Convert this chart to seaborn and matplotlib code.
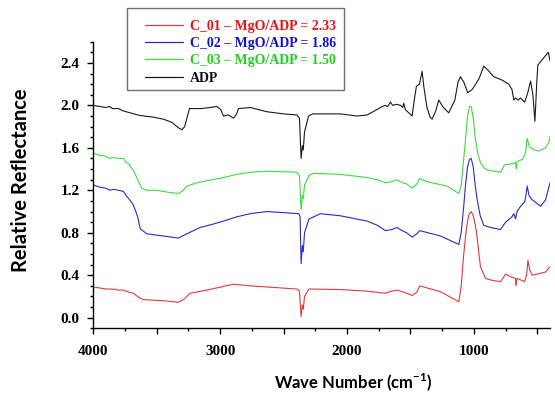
import numpy as np
import pandas as pd
import matplotlib
matplotlib.use("Agg")
import matplotlib.pyplot as plt
from matplotlib.patches import Rectangle
from matplotlib.ticker import MultipleLocator, FixedLocator, FuncFormatter
import seaborn as sns

# ---------------- data ----------------
series_names = ["C_01 \u2013 MgO/ADP = 2.33", "C_02 \u2013 MgO/ADP = 1.86",
                "C_03 \u2013 MgO/ADP = 1.50", "ADP"]

# (wavenumber, relative reflectance) pairs per spectrum
adp_points = [
    (4000, 2.00), (3950, 1.99), (3900, 1.98), (3870, 1.99), (3850, 1.97), (3800, 1.97),
    (3770, 1.95), (3740, 1.94), (3710, 1.93), (3680, 1.92), (3650, 1.91), (3600, 1.90),
    (3530, 1.89), (3447, 1.87), (3380, 1.84), (3330, 1.79), (3302, 1.77), (3280, 1.80),
    (3262, 1.88), (3242, 1.97), (3150, 1.97), (3080, 1.98), (3026, 1.99), (2995, 1.96),
    (2974, 1.90), (2935, 1.91), (2895, 1.88), (2870, 1.92), (2856, 1.97), (2763, 1.98),
    (2631, 1.94), (2500, 1.92), (2395, 1.91), (2375, 1.88), (2362, 1.50), (2352, 1.62),
    (2345, 1.58), (2335, 1.75), (2303, 1.90), (2270, 1.92), (2053, 1.92), (1921, 1.90),
    (1842, 1.91), (1780, 1.95), (1737, 1.98), (1700, 2.00), (1680, 1.99), (1658, 2.03),
    (1640, 2.00), (1610, 2.01), (1579, 2.00), (1560, 1.98), (1553, 2.02), (1540, 1.96),
    (1487, 1.90), (1470, 2.05), (1453, 2.18), (1430, 2.20), (1408, 2.32), (1395, 2.18),
    (1370, 1.98), (1345, 1.89), (1329, 1.87), (1300, 1.95), (1277, 2.05), (1240, 1.98),
    (1198, 1.93), (1150, 2.05), (1125, 2.22), (1106, 2.27), (1080, 2.22), (1048, 2.12),
    (1013, 2.15), (960, 2.25), (922, 2.37), (880, 2.32), (843, 2.27), (780, 2.24),
    (725, 2.20), (700, 2.15), (685, 2.05), (672, 2.07), (650, 2.05), (633, 2.07),
    (600, 2.03), (575, 2.12), (553, 2.23), (535, 2.10), (519, 1.85), (505, 2.20),
    (496, 2.38), (448, 2.45), (413, 2.50), (400, 2.42)]

c03_points = [
    (4000, 1.55), (3950, 1.53), (3900, 1.52), (3870, 1.50), (3840, 1.51), (3800, 1.50),
    (3763, 1.50), (3740, 1.46), (3720, 1.45), (3700, 1.41), (3684, 1.39), (3665, 1.34),
    (3650, 1.30), (3618, 1.22), (3580, 1.20), (3500, 1.20), (3400, 1.18), (3329, 1.17),
    (3290, 1.20), (3263, 1.24), (3184, 1.27), (3060, 1.30), (2974, 1.32), (2870, 1.35),
    (2763, 1.37), (2631, 1.38), (2395, 1.37), (2375, 1.34), (2362, 1.02), (2352, 1.15),
    (2345, 1.12), (2335, 1.25), (2300, 1.34), (2263, 1.36), (2053, 1.35), (1842, 1.32),
    (1760, 1.30), (1698, 1.27), (1650, 1.28), (1605, 1.30), (1580, 1.28), (1530, 1.26),
    (1487, 1.22), (1450, 1.26), (1427, 1.31), (1367, 1.28), (1211, 1.24), (1119, 1.17),
    (1100, 1.25), (1080, 1.50), (1066, 1.68), (1050, 1.90), (1035, 1.99), (1022, 1.99),
    (1005, 1.88), (990, 1.70), (970, 1.55), (948, 1.46), (920, 1.41), (895, 1.39),
    (840, 1.38), (790, 1.37), (758, 1.44), (700, 1.45), (672, 1.46), (665, 1.40),
    (660, 1.47), (620, 1.49), (600, 1.53), (590, 1.58), (580, 1.69), (565, 1.62),
    (553, 1.60), (520, 1.58), (488, 1.57), (435, 1.60), (410, 1.65), (400, 1.71)]

c02_points = [
    (4000, 1.25), (3950, 1.23), (3900, 1.22), (3870, 1.20), (3840, 1.21), (3800, 1.20),
    (3763, 1.19), (3740, 1.15), (3720, 1.12), (3700, 1.09), (3684, 1.06), (3665, 1.00),
    (3650, 0.95), (3631, 0.84), (3579, 0.79), (3450, 0.77), (3329, 0.75), (3263, 0.79),
    (3158, 0.85), (3060, 0.88), (2974, 0.91), (2870, 0.95), (2763, 0.98), (2631, 1.00),
    (2380, 0.98), (2370, 0.95), (2362, 0.51), (2352, 0.68), (2345, 0.62), (2335, 0.80),
    (2300, 0.93), (2263, 0.95), (2210, 0.98), (2053, 0.96), (1842, 0.91), (1760, 0.87),
    (1698, 0.82), (1650, 0.83), (1605, 0.85), (1580, 0.83), (1530, 0.80), (1487, 0.76),
    (1450, 0.79), (1427, 0.82), (1264, 0.77), (1119, 0.69), (1100, 0.80), (1080, 1.05),
    (1066, 1.25), (1050, 1.42), (1035, 1.49), (1021, 1.50), (1005, 1.42), (990, 1.25),
    (974, 1.11), (950, 0.96), (922, 0.87), (869, 0.85), (790, 0.83), (750, 0.90),
    (700, 0.95), (685, 0.98), (672, 0.93), (660, 1.00), (632, 1.05), (600, 1.09),
    (590, 1.15), (580, 1.24), (565, 1.15), (540, 1.11), (474, 1.05), (435, 1.11),
    (400, 1.27)]

c01_points = [
    (4000, 0.29), (3950, 0.28), (3900, 0.27), (3850, 0.27), (3800, 0.26), (3763, 0.26),
    (3720, 0.24), (3684, 0.23), (3640, 0.19), (3605, 0.17), (3450, 0.16), (3329, 0.145),
    (3280, 0.18), (3237, 0.23), (3105, 0.26), (2895, 0.315), (2763, 0.30), (2395, 0.27),
    (2375, 0.25), (2362, 0.01), (2352, 0.12), (2345, 0.08), (2335, 0.20), (2300, 0.27),
    (2053, 0.265), (1842, 0.25), (1698, 0.23), (1650, 0.25), (1605, 0.26), (1580, 0.25),
    (1530, 0.23), (1487, 0.21), (1450, 0.24), (1427, 0.30), (1264, 0.245), (1119, 0.15),
    (1100, 0.30), (1080, 0.60), (1058, 0.85), (1040, 0.97), (1021, 1.00), (1005, 0.96),
    (990, 0.88), (979, 0.80), (960, 0.60), (948, 0.48), (908, 0.37), (850, 0.35),
    (790, 0.34), (750, 0.41), (700, 0.38), (672, 0.37), (668, 0.30), (660, 0.37),
    (600, 0.34), (585, 0.40), (574, 0.54), (560, 0.45), (540, 0.40), (435, 0.43),
    (400, 0.48)]

x_tick_labels = ["4000", "3000", "2000", "1000"]
y_tick_labels = ["0.0", "0.4", "0.8", "1.2", "1.6", "2.0", "2.4"]

# ---------------- build table ----------------
frames = []
for name, pts in zip(series_names, [c01_points, c02_points, c03_points, adp_points]):
    xs, ys = zip(*pts)
    frames.append(pd.DataFrame({"wn": xs, "R": ys, "series": name}))
df = pd.concat(frames, ignore_index=True)

line_colors = {series_names[0]: "#e03a3a", series_names[1]: "#2b2bc0",
               series_names[2]: "#3ddc3d", series_names[3]: "#1a1a1a"}
text_colors = ["#ee1111", "#1515c8", "#22d022", "#111111"]

# ---------------- figure ----------------
sns.set_theme(style="ticks")
plt.rcParams["font.family"] = ["Liberation Serif", "DejaVu Serif"]
plt.rcParams["mathtext.fontset"] = "custom"
plt.rcParams["mathtext.bf"] = "Lato:bold"
plt.rcParams["mathtext.rm"] = "Lato:bold"

fig = plt.figure(figsize=(5.55, 3.96), dpi=100)
ax = fig.add_axes([93.3 / 555, 1 - 328.3 / 396, (550 - 93.3) / 555, (328.3 - 41.7) / 396])

sns.lineplot(data=df, x="wn", y="R", hue="series", palette=line_colors,
             hue_order=series_names, sort=False, estimator=None,
             linewidth=0.8, ax=ax, legend=True)

ax.set_xlim(4000, 400)
ax.set_ylim(-0.1, 2.6)

for s in ["top", "right"]:
    ax.spines[s].set_visible(False)
for s in ["left", "bottom"]:
    ax.spines[s].set_color("black")
    ax.spines[s].set_linewidth(1.0)

ax.xaxis.set_major_locator(MultipleLocator(500))
ax.xaxis.set_minor_locator(MultipleLocator(250))
ax.xaxis.set_major_formatter(FuncFormatter(
    lambda v, p: (str(int(round(v))) if str(int(round(v))) in x_tick_labels else "")))
ax.yaxis.set_major_locator(FixedLocator([float(t) for t in y_tick_labels]))
ax.yaxis.set_minor_locator(MultipleLocator(0.1))
ax.set_yticklabels(y_tick_labels)

ax.tick_params(axis="both", which="major", direction="out", length=4, width=1,
               color="black", labelsize=11)
ax.tick_params(axis="both", which="minor", direction="out", length=2.4, width=1,
               color="black")
ax.tick_params(axis="x", which="major", pad=8)
ax.tick_params(axis="y", which="major", pad=6)
for lab in ax.get_xticklabels() + ax.get_yticklabels():
    lab.set_fontweight("bold")
    lab.set_color("black")

ax.set_xlabel("")
ax.set_ylabel("")
fig.text(353 / 555, 1 - 382 / 396, r"Wave Number (cm$^{-1}$)", ha="center", va="center",
         family=["Lato", "DejaVu Sans"], fontweight="bold", fontsize=12, color="black")
fig.text(21 / 555, 1 - 180 / 396, "Relative Reflectance", ha="center", va="center",
         rotation=90, family=["Lato", "DejaVu Sans"], fontweight="bold", fontsize=14.5,
         color="black")

# legend
handles, labels = ax.get_legend_handles_labels()
ax.get_legend().remove()
leg = fig.legend(handles, labels, loc="upper left",
                 bbox_to_anchor=(145 / 555, 1 - 20 / 396),
                 frameon=False, borderpad=0, borderaxespad=0,
                 handlelength=2.7, handletextpad=0.55, labelspacing=0.3,
                 prop={"family": "Liberation Serif", "weight": "bold", "size": 10})
for t, c in zip(leg.get_texts(), text_colors):
    t.set_color(c)
for h in leg.get_lines():
    h.set_linewidth(0.9)

fig.patches.append(Rectangle((127 / 555, 1 - 90 / 396), (344 - 127) / 555, (90 - 8) / 396,
                             transform=fig.transFigure, fill=False,
                             edgecolor="#707070", linewidth=1.0))

fig.savefig("out.png", dpi=100)
